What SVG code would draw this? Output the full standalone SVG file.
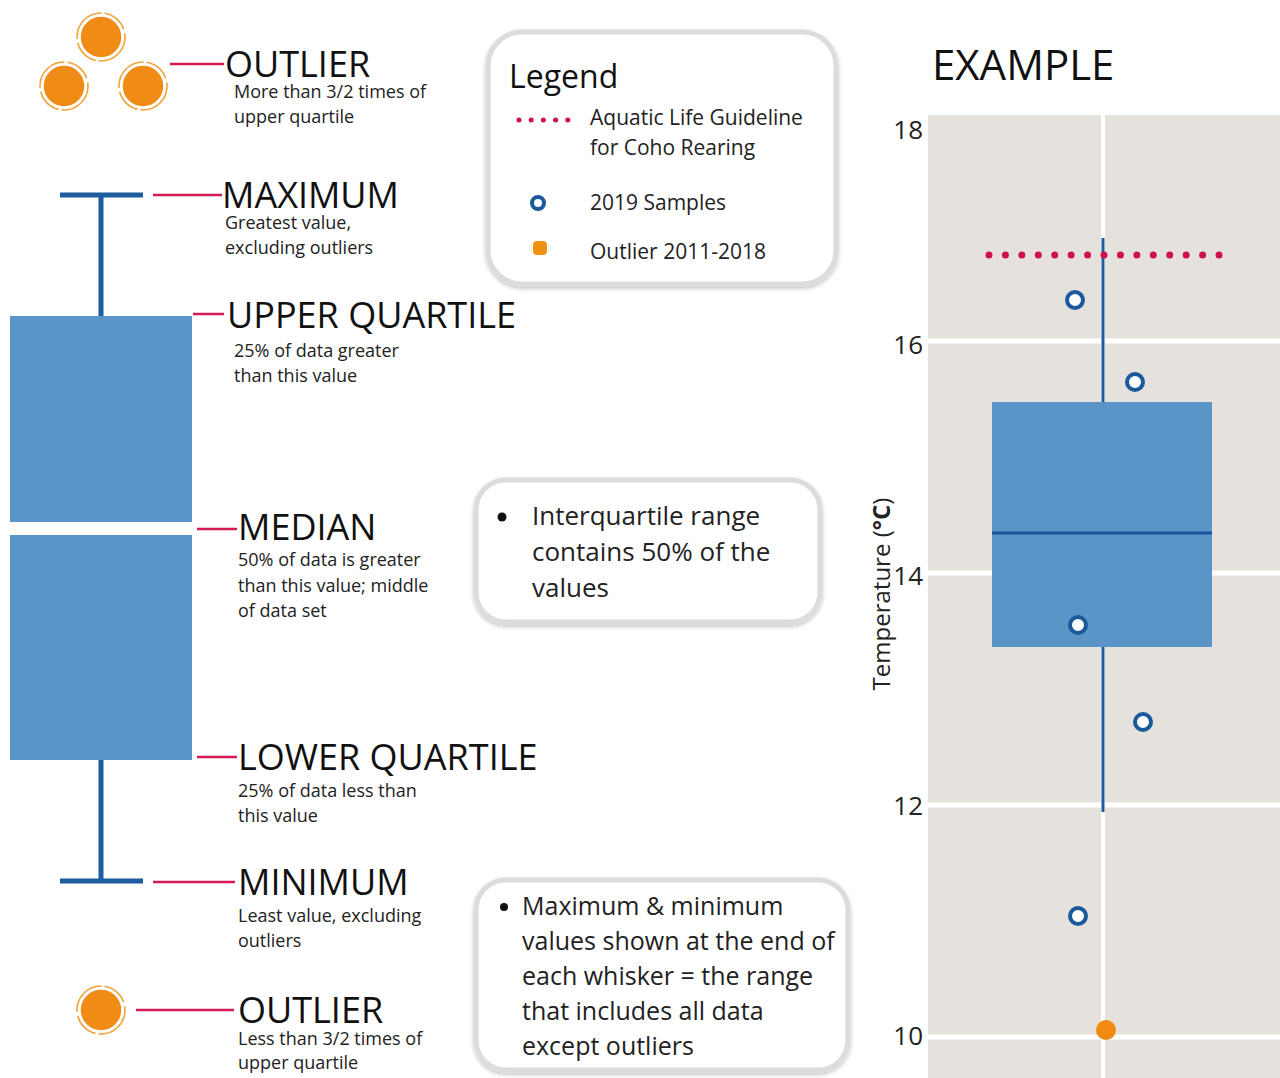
<svg xmlns="http://www.w3.org/2000/svg" width="1280" height="1078" viewBox="0 0 1280 1078">
<defs>
<style>
text{font-family:"Open Sans","Noto Sans","Liberation Sans",sans-serif;fill:#111}
.h{font-size:36px}
.s{font-size:18px;fill:#222}
.lg{font-size:21px;fill:#222}
.bx{font-size:26px;fill:#222}
.tick{font-size:26px;fill:#222;text-anchor:end}
.conn{stroke:#d41a50;stroke-width:2.5;fill:none}
.wh{stroke:#1d5c9e;stroke-width:5;fill:none}
.box{fill:#5b94c6}
.card{fill:#fff;stroke:#dcdcdc;stroke-width:5}
.ring{fill:#fff;stroke:#1a5a9a;stroke-width:4}
.out{fill:#f08c16;stroke:#fff;stroke-width:1.5}
.outr{fill:none;stroke:#f2a23a;stroke-width:1.6;stroke-dasharray:40 3 26 4}
</style>
<filter id="sh" x="-10%" y="-10%" width="120%" height="120%">
<feGaussianBlur in="SourceAlpha" stdDeviation="2"/>
<feOffset dx="0" dy="2"/>
<feComponentTransfer><feFuncA type="linear" slope="0.25"/></feComponentTransfer>
<feMerge><feMergeNode/><feMergeNode in="SourceGraphic"/></feMerge>
</filter>
</defs>
<rect width="1280" height="1078" fill="#fff"/>

<!-- left box plot -->
<g id="boxplot">
<line class="wh" x1="60" y1="195" x2="143" y2="195"/>
<line class="wh" x1="101" y1="195" x2="101" y2="316"/>
<rect class="box" x="10" y="316" width="182" height="206"/>
<rect class="box" x="10" y="535" width="182" height="225"/>
<line class="wh" x1="101" y1="760" x2="101" y2="881"/>
<line class="wh" x1="60" y1="881" x2="143" y2="881"/>
</g>

<g id="outliers-top">
<circle class="out" cx="101" cy="37" r="21"/><circle class="outr" cx="101" cy="37" r="24"/>
<circle class="out" cx="64" cy="86" r="21"/><circle class="outr" cx="64" cy="86" r="24"/>
<circle class="out" cx="143" cy="86" r="21"/><circle class="outr" cx="143" cy="86" r="24"/>
</g>
<g id="outlier-bottom">
<circle class="out" cx="101" cy="1010" r="21"/><circle class="outr" cx="101" cy="1010" r="24"/>
</g>

<g id="connectors">
<line class="conn" x1="170" y1="64" x2="224" y2="64"/>
<line class="conn" x1="153" y1="195" x2="222" y2="195"/>
<line class="conn" x1="193" y1="314" x2="224" y2="314"/>
<line class="conn" x1="197" y1="529" x2="237" y2="529"/>
<line class="conn" x1="197" y1="757" x2="237" y2="757"/>
<line class="conn" x1="153" y1="882" x2="235" y2="882"/>
<line class="conn" x1="136" y1="1010" x2="234" y2="1010"/>
</g>

<g id="label-outlier-top">
<text class="h" x="225" y="77">OUTLIER</text>
<text class="s" x="234" y="98">More than 3/2 times of</text>
<text class="s" x="234" y="123">upper quartile</text>
</g>
<g id="label-maximum">
<text class="h" x="222" y="208">MAXIMUM</text>
<text class="s" x="225" y="229">Greatest value,</text>
<text class="s" x="225" y="254">excluding outliers</text>
</g>
<g id="label-upper">
<text class="h" x="227" y="328">UPPER QUARTILE</text>
<text class="s" x="234" y="357">25% of data greater</text>
<text class="s" x="234" y="382">than this value</text>
</g>
<g id="label-median">
<text class="h" x="238" y="540">MEDIAN</text>
<text class="s" x="238" y="566">50% of data is greater</text>
<text class="s" x="238" y="592">than this value; middle</text>
<text class="s" x="238" y="617">of data set</text>
</g>
<g id="label-lower">
<text class="h" x="238" y="770">LOWER QUARTILE</text>
<text class="s" x="238" y="797">25% of data less than</text>
<text class="s" x="238" y="822">this value</text>
</g>
<g id="label-minimum">
<text class="h" x="238" y="895">MINIMUM</text>
<text class="s" x="238" y="922">Least value, excluding</text>
<text class="s" x="238" y="947">outliers</text>
</g>
<g id="label-outlier-bottom">
<text class="h" x="238" y="1023">OUTLIER</text>
<text class="s" x="238" y="1045">Less than 3/2 times of</text>
<text class="s" x="238" y="1069">upper quartile</text>
</g>

<!-- legend -->
<g id="legend">
<rect class="card" filter="url(#sh)" x="488" y="32" width="348" height="252" rx="34"/>
<text x="509" y="88" style="font-size:32px">Legend</text>
<line x1="519" y1="120" x2="568" y2="120" stroke="#d0104c" stroke-width="5" stroke-linecap="round" stroke-dasharray="0 12.2"/>
<text class="lg" x="590" y="125">Aquatic Life Guideline</text>
<text class="lg" x="590" y="155">for Coho Rearing</text>
<circle class="ring" cx="538" cy="203" r="6"/>
<text class="lg" x="590" y="210">2019 Samples</text>
<rect x="533" y="241" width="14" height="14" rx="4" fill="#ee9010"/>
<text class="lg" x="590" y="259">Outlier 2011-2018</text>
</g>

<g id="note-iqr">
<rect class="card" filter="url(#sh)" x="476" y="480" width="344" height="142" rx="30"/>
<circle cx="502" cy="517" r="4.5" fill="#111"/>
<text class="bx" x="532" y="525">Interquartile range</text>
<text class="bx" x="532" y="561">contains 50% of the</text>
<text class="bx" x="532" y="597">values</text>
</g>

<g id="note-range">
<rect class="card" filter="url(#sh)" x="476" y="880" width="372" height="190" rx="30"/>
<circle cx="504" cy="907" r="4" fill="#111"/>
<text class="bx" x="522" y="915" style="font-size:25px">Maximum &amp; minimum</text>
<text class="bx" x="522" y="950" style="font-size:25px">values shown at the end of</text>
<text class="bx" x="522" y="985" style="font-size:25px">each whisker = the range</text>
<text class="bx" x="522" y="1020" style="font-size:25px">that includes all data</text>
<text class="bx" x="522" y="1055" style="font-size:25px">except outliers</text>
</g>

<!-- example chart -->
<g id="example">
<text x="932" y="80" style="font-size:42px">EXAMPLE</text>
<rect x="928" y="115" width="352" height="963" fill="#e5e2de"/>
<g stroke="#fff" stroke-width="5">
<line x1="928" y1="341" x2="1280" y2="341"/>
<line x1="928" y1="573" x2="1280" y2="573"/>
<line x1="928" y1="805" x2="1280" y2="805"/>
<line x1="928" y1="1037" x2="1280" y2="1037"/>
<line x1="1103" y1="115" x2="1103" y2="1078" stroke-width="4"/>
</g>
<text class="tick" x="923" y="139">18</text>
<text class="tick" x="923" y="354">16</text>
<text class="tick" x="923" y="585">14</text>
<text class="tick" x="923" y="815">12</text>
<text class="tick" x="923" y="1045">10</text>
<text transform="translate(890,594) rotate(-90)" text-anchor="middle" style="font-size:24px;fill:#222">Temperature (<tspan style="font-weight:bold">°C</tspan>)</text>
<line x1="1103" y1="238" x2="1103" y2="402" stroke="#1d5c9e" stroke-width="3"/>
<line x1="1103" y1="647" x2="1103" y2="812" stroke="#1d5c9e" stroke-width="3"/>
<rect x="992" y="402" width="220" height="245" fill="#5b94c6"/>
<line x1="992" y1="533" x2="1212" y2="533" stroke="#1a5599" stroke-width="3"/>
<line x1="989" y1="255" x2="1221" y2="255" stroke="#d0104c" stroke-width="7" stroke-linecap="round" stroke-dasharray="0 16.43"/>
<circle class="ring" cx="1075" cy="300" r="8"/>
<circle class="ring" cx="1135" cy="382" r="8"/>
<circle class="ring" cx="1078" cy="625" r="8"/>
<circle class="ring" cx="1143" cy="722" r="8"/>
<circle class="ring" cx="1078" cy="916" r="8"/>
<circle cx="1106" cy="1030" r="10" fill="#f08a10"/>
</g>
</svg>
